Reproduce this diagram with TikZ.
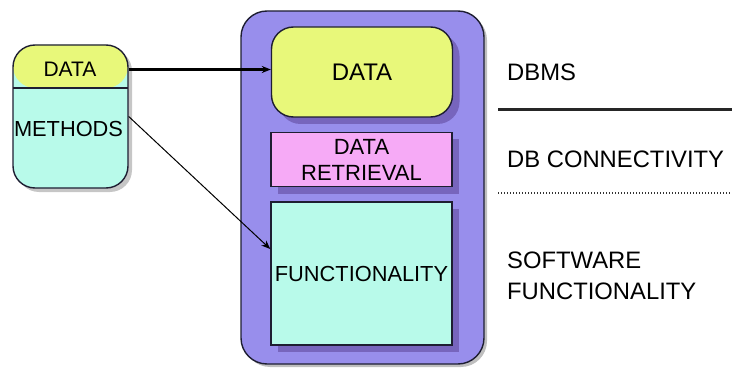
\documentclass[tikz,border=0pt]{standalone}
\usepackage{fontspec}
\setmainfont{Liberation Sans}
\usetikzlibrary{arrows.meta,shadows}
\definecolor{ylw}{RGB}{232,248,122}
\definecolor{pnk}{RGB}{246,170,246}
\definecolor{cyn}{RGB}{184,250,234}
\definecolor{purp}{RGB}{152,142,236}
\definecolor{purpshadow}{RGB}{105,85,170}
\definecolor{edge}{RGB}{30,30,50}
\begin{document}
\begin{tikzpicture}[x=1pt,y=-1pt,
  box/.style={draw=edge,line width=1.4pt,minimum width=181pt,inner sep=0pt,
    drop shadow={shadow xshift=7pt,shadow yshift=-7pt,fill=purpshadow,opacity=0.7}},
  lbl/.style={anchor=west,inner sep=0pt,font=\fontsize{23.8}{31}\selectfont,align=left},
  intxt/.style={font=\fontsize{22}{26}\selectfont,align=center},
  lefttxt/.style={inner sep=0pt,font=\fontsize{21}{24}\selectfont},
  conn/.style={draw=black,-{Stealth[length=9pt,width=7pt]}}]
\useasboundingbox (0,0) rectangle (732,369);
% outer container
\node[draw=edge,line width=1.4pt,fill=purp,rounded corners=26pt,
  minimum width=243pt,minimum height=353pt,inner sep=0pt,
  drop shadow={shadow xshift=3pt,shadow yshift=-3pt,fill=gray,opacity=0.5}] (outer) at (362.5,187.5) {};
% inner boxes
\node[box,fill=ylw,rounded corners=22pt,minimum height=90pt] (idata) at (362,72) {};
\node[font=\fontsize{24}{26}\selectfont] at (idata) {DATA};
\node[box,fill=pnk,minimum height=54pt,intxt] (ret) at (361.5,159.5) {DATA\\RETRIEVAL};
\node[box,fill=cyn,minimum height=143pt] (func) at (361.5,273.5) {};
\node[font=\fontsize{21.8}{24}\selectfont] at (func) {FUNCTIONALITY};
% left object
\node[draw=edge,line width=1.4pt,rounded corners=22pt,minimum width=115pt,minimum height=143pt,inner sep=0pt,
  drop shadow={shadow xshift=4pt,shadow yshift=-4pt,fill=gray,opacity=0.45},
  path picture={
    \fill[cyn] (path picture bounding box.north west) rectangle (path picture bounding box.south east);
    \fill[ylw] (path picture bounding box.north west) rectangle ([yshift=-43pt]path picture bounding box.north east);
  }] (obj) at (70.5,116.5) {};
\coordinate (divl) at (13,88);
\coordinate (divr) at (128,88);
\draw[edge,line width=1.4pt] (divl) -- (divr);
\node[lefttxt] (ldata) at (70,69.5) {DATA};
\node[lefttxt,font=\fontsize{21.8}{24}\selectfont] (lmeth) at (68.5,129) {METHODS};
% connectors
\draw[conn,line width=2.4pt] (ldata -| obj.east) -- (ldata -| idata.west);
\draw[conn,line width=1pt] (obj.east) -- (func.165);
% right labels
\node[lbl] (dbms) at (507,72.5) {DBMS};
\node[lbl] (dbc) at (507,159) {DB CONNECTIVITY};
\node[lbl] (sw) at (507,276) {SOFTWARE\\FUNCTIONALITY};
\coordinate (l1a) at (498,110);
\coordinate (l1b) at (732,110);
\coordinate (l2a) at (498,193);
\coordinate (l2b) at (732,193);
\draw[line width=3pt,black!85] (l1a) -- (l1b);
\draw[line width=1.3pt,dash pattern=on 1.3pt off 1.7pt,black!80] (l2a) -- (l2b);
\end{tikzpicture}
\end{document}
